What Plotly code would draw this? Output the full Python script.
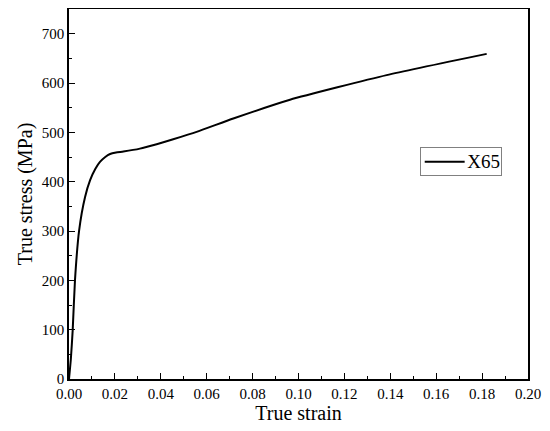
import plotly.graph_objects as go

strain = [0.0, 0.0008, 0.0016, 0.0026, 0.0044, 0.007, 0.0092, 0.0115, 0.0135, 0.0158,
          0.0179, 0.0205, 0.0237, 0.0309, 0.0382, 0.0454, 0.0556, 0.0716, 0.0963,
          0.1384, 0.182]
stress = [0, 40, 98, 200, 301, 369, 403, 426, 440, 450,
          456, 459, 461, 467, 476, 486, 501, 528, 566,
          616, 659]
series_name = "X65"

FONT = "Liberation Serif"

fig = go.Figure()
fig.add_trace(go.Scatter(x=strain, y=stress, mode="lines", name=series_name,
                         line=dict(color="black", width=2, shape="spline", smoothing=0.5),
                         showlegend=False))

axis_common = dict(showgrid=False, zeroline=False, showline=True, linecolor="black",
                   linewidth=1.5, mirror=True, ticks="inside", ticklen=6, tickwidth=1,
                   tickcolor="black", automargin=False,
                   tickfont=dict(family=FONT, size=15, color="black"))

fig.update_xaxes(range=[0, 0.2], dtick=0.02, tickformat=".2f",
                 minor=dict(ticks="inside", ticklen=3, dtick=0.01, tickcolor="black"),
                 title=dict(text="True strain", font=dict(family=FONT, size=20, color="black"), standoff=2),
                 **axis_common)
fig.update_yaxes(range=[0, 750], dtick=100,
                 minor=dict(ticks="inside", ticklen=3, dtick=50, tickcolor="black"),
                 title=dict(text="True stress (MPa)", font=dict(family=FONT, size=20, color="black"), standoff=4),
                 **axis_common)

# legend box drawn as annotation + line sample
fig.add_annotation(xref="paper", yref="paper", x=0.9434, y=0.5875,
                   xanchor="right", yanchor="middle", text=series_name, showarrow=False,
                   width=78, height=25, align="right", valign="middle",
                   font=dict(family=FONT, size=19, color="black"),
                   bordercolor="gray", borderwidth=1, borderpad=1, bgcolor="rgba(0,0,0,0)")
fig.add_shape(type="line", xref="paper", yref="paper", x0=0.775, x1=0.862,
              y0=0.5875, y1=0.5875, line=dict(color="black", width=2), layer="above")

fig.update_layout(width=550, height=431, margin=dict(l=61, r=30, t=1, b=60),
                  font=dict(family=FONT, color="black"),
                  plot_bgcolor="white", paper_bgcolor="white",
                  showlegend=False)

fig.write_html("out.html")
